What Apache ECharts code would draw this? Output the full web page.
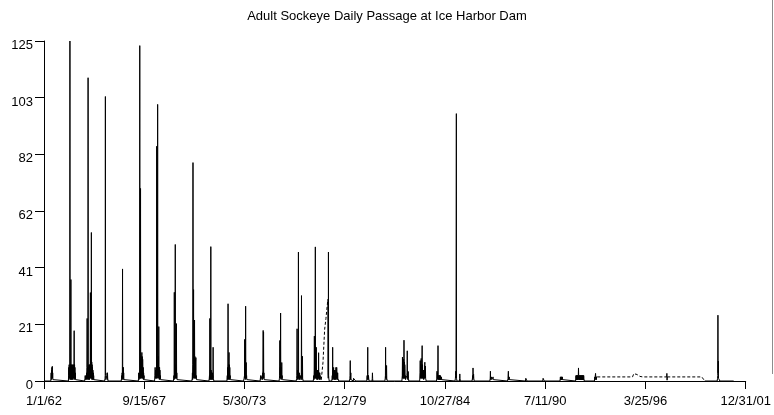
<!DOCTYPE html>
<html>
<head>
<meta charset="utf-8">
<script src="https://cdn.jsdelivr.net/npm/echarts@6/dist/echarts.min.js"></script>
<style>
html,body{margin:0;padding:0;background:#fff;}
#chart{width:774px;height:415px;}
</style>
</head>
<body>
<div id="chart"></div>
<script>
// ---------- DATA ----------
const chartTitle = 'Adult Sockeye Daily Passage at Ice Harbor Dam';
const axisStart = '1962-01-01';
const axisEnd = '2001-12-31';
const seriesEnd = '2001-04-25';
const xTickLabels = ['1/1/62','9/15/67','5/30/73','2/12/79','10/27/84','7/11/90','3/25/96','12/31/01'];
const yTickLabels = ['0','21','41','62','82','103','125'];
const yMax = 125;
const STEP_DAYS = 4; // days between consecutive readings kept per season

// first day of each counting season
const seasonStart = [
  '1962-05-26','1963-05-28','1964-04-30','1965-06-20','1966-05-31','1967-05-21','1968-04-25',
  '1969-05-21','1970-06-10','1971-05-31','1972-06-09','1973-05-21','1974-05-01','1975-05-31',
  '1976-05-20','1977-05-11','1978-03-08','1978-05-31','1979-06-05','1979-08-24','1980-05-30',
  '1980-09-17','1981-06-10','1982-05-31','1983-06-05','1984-05-20','1985-06-10','1985-09-10',
  '1986-05-31','1987-06-05','1988-06-09','1989-06-15','1990-06-10','1991-06-05','1992-04-25',
  '1993-05-21','1997-06-30','1999-09-01','2000-05-20'
];
// counts of each season (one reading every STEP_DAYS days)
const seasonCounts = [
  [1,3,0.5,4,1,5,2,5.4,1,3,0.5,1,0.5],
  [2,5,0.5,6,1,5,2,125,1,6,0.5,5,37.3,1,6,0.5,5,1,6,0.5,5,1,6,0.5,5,2,6,1,5,18.5,1,6,0.5,5,1,3,0.5,1,0.5],
  [0.5,1,2,0.5,1,0.5,1,2,0.5,3,1,5,23,1,5,0.5,6,111.5,1,5,0.5,6,1,5,0.5,6,1,6,2,32.5,1,7,1,8,54.6,1,7,0.5,6,1,5,0.5,4,1,3,0.5,2,0.5,1,0.5,0.5,0.3,0.3],
  [0.5,1,2,104.6,2,0.5,1,0.5,1,0.5,1,2,3,0.5,3,1,0.5],
  [0.5,1,2,0.5,3,1,41.2,1,5,0.5,5,1,3,0.5,1,0.5,0.5],
  [0.5,1,3,0.5,3,1,3,123.3,1,3,1,70.8,1,8,1,9,2,9,10.5,1,9,1,8,8.5,1,5,0.5,3,1,2,0.5,1,0.5,1,0.5,0.5,0.3,0.3],
  [0.5,2,5,1,4,1,4,1,4,1,86.3,2,9,1,9,101.7,2,9,1,9,2,20,1,5,0.5,5,1,4,1,2,0.5,0.5],
  [0.5,1,2,0.5,32.6,1,6,1,7,50.2,1,6,1,5,1,21.1,1,3,0.5,1,0.5],
  [0.5,1,3,0.5,6,80.3,1,9,33.6,2,10,1,9,22.4,1,9,1,8,1,7,8.6,1,2,0.5,0.5],
  [0.5,1,2,0.5,23,1,4,0.5,4,49.4,1,4,0.5,3,1,3,0.5,3,1,2,0.5,12.4,1,1,0.5],
  [0.5,2,0.5,5,1,28.4,1,6,0.5,4,10.5,1,6,0.5,5,1,2,0.5,0.5],
  [0.3,0.5,1,0.5,2,15.3,1,4,0.5,4,27.5,1,3,6.8,1,2,0.5,0.5],
  [0.3,0.5,2,0.5,0.5,0.3,0.5,1,0.5,1,2,0.5,3,1,4,18.6,1,18,1,3,0.5,1,0.5],
  [0.5,1,2,14.9,1,5,1,25,1,5,0.5,5,1,6.8,1,2,0.5,0.5],
  [0.3,0.5,1,2,19.2,1,4,0.5,4,1,4,47.4,1,3,0.5,3,1,2,0.5,2,1,1,0.5,1,2,0.5,3,31.4,1,3,0.5,3,9.1,1,1,0.5],
  [0.5,1,2,0.5,4,16.5,1,4,1,6,49.3,1,5,1,5,12.4,1,4,0.5,4,1,4,0.5,4,1,4,1,10.4,1,3,0.5,3,1,3,0.5,2,1,1,0.5,1,0.5,0.5],
  [30,3,1,47.4,2,1,0.5],
  [0.5,1,2,0.5,12.4,1,3,1,3,5,0.5,3,1,4,0.5,3,1,4,0.5,3,1,5,0.5,3,1,5,5.7,1,3,0.5,3,1,1,0.5,0.5,0.5],
  [0.5,1,2,7.5,0.5,1,3,0.5,0.5],
  [1,1.5,0.5,1.5,0.5,1.5,0.5,1.5,0.5,1.5,0.5],
  [0.5,2,0.5,2.5,12.4,1,2,0.5,2,1,0.5],
  [1,3,1],
  [0.5,1,2,12.4,1,2,0.5,2,5.7,1,1,0.5],
  [0.5,2,8.8,1,7,1,6,1,8,1,15,1,7,1,6,4.7,1,2,0.5,1,0.5,1,0.5,1,0.5,2,3,11.1,1,2,0.5,1,3.5,1,0.5],
  [0.5,3,7.5,1,6,1,6,8.3,1,6,1,8,13,1,6,1,4,3.6,1,4,0.5,4,1,4,1,6,6.9,1,4,5.5,1,1,0.5],
  [0.5,1,3.6,0.5,3,1,3,13,1,2,0.5,2,0.5,2,0.5,2,0.5,2,0.5,2,0.5,1.5,0.5,1.5,0.5,1.5,0.5,1,0.5,0.5],
  [0.5,1,2,3.6,1,1,98.3,1,0.5],
  [1,2.6,1,0.5],
  [0.5,1,2,0.5,4.8,1,1,2.5,1,0.5],
  [0.5,1,3.6,0.5,1,0.5,1,0.5,1.5,0.5,1,0.5,1,0.5,1,0.5,1.5,0.5,0.5],
  [0.5,1,1.5,3.6,0.5,1.5,0.5,1.5,0.5],
  [0.5,1,1.5,0.5,1.5,1,0.5],
  [0.5,1,1.5,0.5,1.5,1,0.5],
  [0.5,1.5,0.5,1.5,0.5,1.5,0.5,1.5,0.5,1.5,0.5,1.5,0.5],
  [1,2,0.5,2,0.5,2,0.5,2,0.5,2,0.5,2,0.5,2,4.8,2,0.5,2,0.5,2,0.5,2,0.5,2,0.5,2,0.5,2,0.5,2,0.5,2,0.5,2,0.5,2,0.5,2,0.5,2,0.5,2,1,0.5],
  [0.5,1.5,0.5,1.5,1,2.8,1.5,0.5,1.5,0.5,1.5,1.5,1.5,1.5,1.5],
  [1.5,2.8,0.3,1.5],
  [0],
  [0.5,1,2,24.2,3,7.3,1,0.5,1.5,0.5,1.5,0.5,0.5]
];

// missing-data periods (drawn dashed): interior dates and estimated values
const gapDates = [
  ['1977-11-26','1977-12-31','1978-01-27'],
  ['1995-07-20','1995-08-15','1995-10-20','1995-12-20','1996-02-15'],
  ['1999-07-01']
];
const gapCounts = [
  [6.8,19,23],
  [1.5,2.7,2.4,1.7,1.5],
  [1.5]
];

// ---------- BUILD ----------
const T0 = Date.parse(axisStart + 'T00:00:00Z');
function dayNum(s){ return Math.round((Date.parse(s + 'T00:00:00Z') - T0) / 86400000); }

const seasons = seasonStart.map((d, i) => {
  const s = dayNum(d);
  return seasonCounts[i].map((v, j) => [s + j * STEP_DAYS, v]);
});
const gaps = gapDates.map((ds, k) => ds.map((d, j) => [dayNum(d), gapCounts[k][j]]));

const gapBefore = seasons.map((pts, i) => {
  if (i === 0) return null;
  const prevLast = seasons[i - 1][seasons[i - 1].length - 1][0];
  const first = pts[0][0];
  return gaps.find(g => g[0][0] > prevLast && g[g.length - 1][0] < first) || null;
});

const solid = [[0, 0]];
const dashed = [];
seasons.forEach((pts, i) => {
  const first = pts[0];
  if (gapBefore[i]) {
    const prevLast = seasons[i - 1][seasons[i - 1].length - 1];
    solid.push([(prevLast[0] + first[0]) / 2, '-']);
    dashed.push(prevLast, ...gapBefore[i], first, [first[0] + 0.5, '-']);
  } else {
    solid.push([first[0] - STEP_DAYS, 0]);
  }
  solid.push(...pts);
  const nextHasGap = i + 1 < seasons.length && gapBefore[i + 1];
  if (!nextHasGap) solid.push([pts[pts.length - 1][0] + STEP_DAYS, 0]);
});
solid.push([dayNum(seriesEnd), 0]);

const xMax = dayNum(axisEnd);
const xInterval = xMax / (xTickLabels.length - 1);
const yInterval = yMax / (yTickLabels.length - 1);

const font = "'Liberation Sans', Arial, sans-serif";
const chart = echarts.init(document.getElementById('chart'), null, {renderer: 'canvas'});
chart.setOption({
  animation: false,
  backgroundColor: '#fff',
  title: {
    text: chartTitle,
    left: 'center',
    top: 5,
    textStyle: {fontFamily: font, fontSize: 13, fontWeight: 'normal', color: '#000', lineHeight: 13}
  },
  grid: {left: 44, right: 25, top: 41, bottom: 34, containLabel: false},
  xAxis: {
    type: 'value',
    min: 0,
    max: xMax,
    interval: xInterval,
    axisLine: {lineStyle: {color: '#000', width: 1}},
    axisTick: {show: true, length: 8, lineStyle: {color: '#000'}},
    splitLine: {show: false},
    axisLabel: {
      margin: 14, color: '#000', fontFamily: font, fontSize: 13, lineHeight: 13,
      showMinLabel: true, showMaxLabel: true, hideOverlap: false,
      formatter: v => xTickLabels[Math.round(v / xInterval)] || ''
    }
  },
  yAxis: {
    type: 'value',
    min: 0,
    max: yMax,
    interval: yInterval,
    axisLine: {show: true, lineStyle: {color: '#000', width: 1}},
    axisTick: {show: true, length: 9, lineStyle: {color: '#000'}},
    splitLine: {show: false},
    axisLabel: {
      margin: 11, color: '#000', fontFamily: font, fontSize: 13, lineHeight: 13,
      verticalAlign: 'top', padding: [-2, 0, 0, 0],
      showMinLabel: true, showMaxLabel: true,
      formatter: v => yTickLabels[Math.round(v / yInterval)] || ''
    }
  },
  series: [
    {
      type: 'line', name: 'passage', data: solid, symbol: 'none', showSymbol: false,
      connectNulls: false, lineStyle: {color: '#000', width: 1}, z: 3
    },
    {
      type: 'line', name: 'missing', data: dashed, symbol: 'none', showSymbol: false,
      connectNulls: false, lineStyle: {color: '#000', width: 1, type: [3, 2]}, z: 2
    }
  ],
  graphic: [{
    type: 'line', shape: {x1: 772.5, y1: 0, x2: 772.5, y2: 374},
    style: {stroke: '#8c8c8c', lineWidth: 1}, silent: true
  }]
});
</script>
</body>
</html>
